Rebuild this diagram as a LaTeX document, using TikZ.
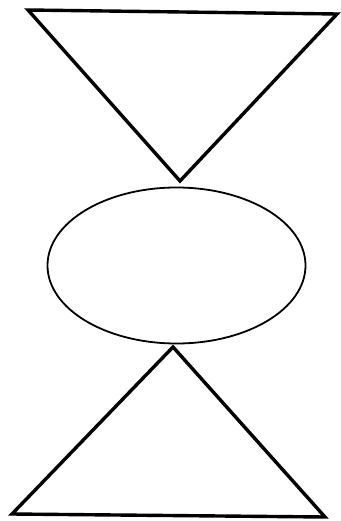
\documentclass[tikz,border=0pt]{standalone}
\usepackage{tikz}
\usetikzlibrary{shapes.geometric}

\begin{document}
\begin{tikzpicture}[
  x=1pt,y=-1pt,
  outline/.style={draw,line width=3.4pt,line join=miter},
  oval/.style={draw,ellipse,line width=1.8pt,minimum width=258pt,
    minimum height=156pt,inner sep=0pt}
]
\useasboundingbox (0,0) rectangle (340,521);
% top triangle, point down
\coordinate (topleft) at (28,10);
\coordinate (topright) at (337,14);
\coordinate (toptip) at (180,181);
\draw[outline] (topleft) -- (topright) -- (toptip) -- cycle;
% ellipse in the middle
\node[oval] (middle) at (176.5,265.5) {};
% bottom triangle, point up
\coordinate (bottip) at (173,347);
\coordinate (botleft) at (12,514);
\coordinate (botright) at (325,517);
\draw[outline] (bottip) -- (botright) -- (botleft) -- cycle;
\end{tikzpicture}
\end{document}
